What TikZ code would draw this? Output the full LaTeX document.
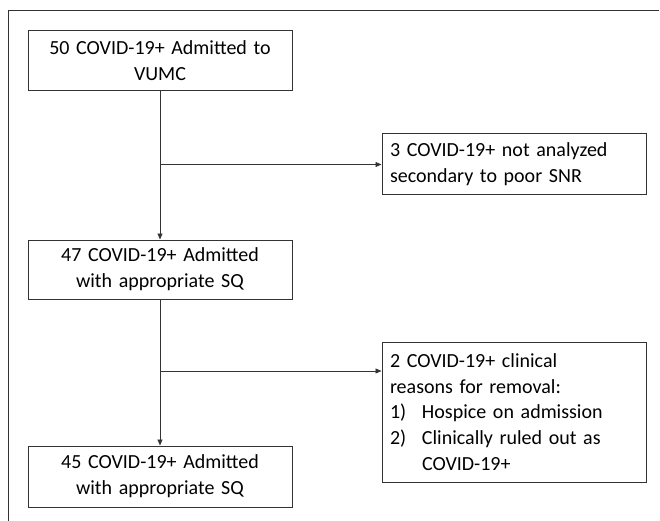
\documentclass[tikz,border=0pt]{standalone}
\usepackage{fontspec}
\setmainfont{Carlito}
\usetikzlibrary{arrows.meta,shapes,calc}

\tikzset{
  stage/.style={rectangle, draw=black!80, line width=1pt, minimum width=264pt, text width=248pt, align=center, inner xsep=8pt, inner ysep=0pt},
  excl/.style={rectangle, draw=black!80, line width=1pt, minimum width=264pt, text width=248pt, align=left, inner xsep=8pt, inner ysep=0pt},
  flow/.style={draw=black!80, line width=0.9pt},
}
\newcommand{\itemlbl}[1]{\makebox[32pt][l]{#1}}

\begin{document}
\begin{tikzpicture}[x=1pt, y=-1pt, font=\fontsize{20}{25.8}\selectfont, >={Triangle[length=6pt,width=5pt]}]
		\useasboundingbox (0,0) rectangle (660,521);
		\draw[flow] (8,521) -- (8,10) -- (659,10);

		\path (160, 61) node[stage, minimum height=60pt] (admitted) {50 COVID-19+ Admitted to\\VUMC}
  		(160, 269.5) node[stage, minimum height=59pt] (quality) {47 COVID-19+ Admitted\\with appropriate SQ}
  		(160, 476.5) node[stage, minimum height=61pt] (final) {45 COVID-19+ Admitted\\with appropriate SQ}
  		(514, 164.5) node[excl, minimum height=61pt] (snr) {3 COVID-19+ not analyzed\\secondary to poor SNR}
  		(514, 412) node[excl, minimum height=140pt] (clinical) {2 COVID-19+ clinical\\reasons for removal:\\\itemlbl{1)}Hospice on admission\\\itemlbl{2)}Clinically ruled out as\\\hspace*{32pt}COVID-19+};

		\coordinate (split1) at (160, 164.5);
		\coordinate (split2) at (160, 371);

		\draw[flow, ->] (admitted) -- (quality);
		\draw[flow, ->] (split1) -- (snr.west |- split1);
		\draw[flow, ->] (quality) -- (final);
		\draw[flow, ->] (split2) -- (clinical.west |- split2);
	\end{tikzpicture}
\end{document}
